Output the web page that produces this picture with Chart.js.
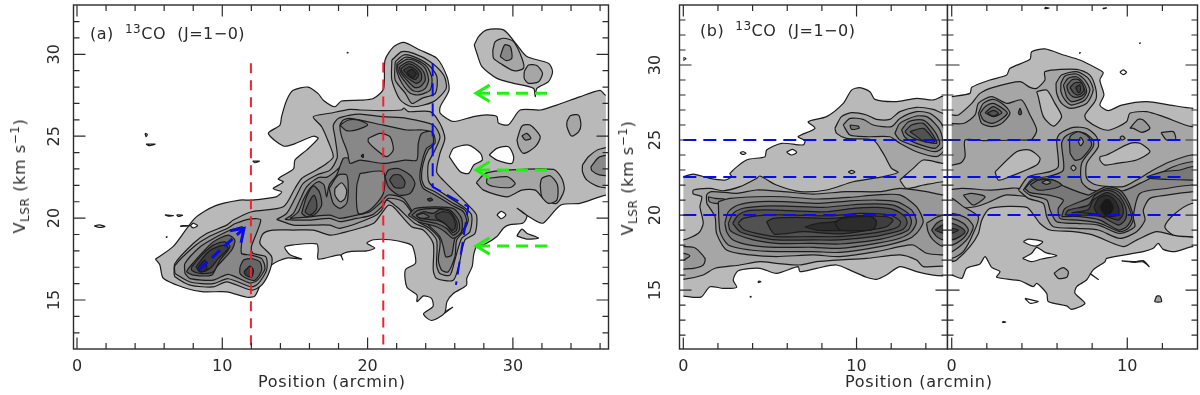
<!DOCTYPE html>
<html>
<head>
<meta charset="utf-8">
<script src="https://cdn.jsdelivr.net/npm/chart.js@4/dist/chart.umd.js"></script>
<style>
  body { margin: 0; background: #fff; }
  #page { position: relative; width: 1200px; height: 395px; overflow: hidden; font-family: "DejaVu Sans", sans-serif; color: #2a2a2a; }
  canvas { position: absolute; top: 0; }
  .txt { position: absolute; white-space: nowrap; font-size: 16px; line-height: 18px; letter-spacing: 0.75px; }
  .lab { letter-spacing: 0.5px; }
  .txt sup { font-size: 12px; line-height: 0; }
  .txt sub { font-size: 12px; line-height: 0; }
  .ylab { transform: translate(-50%, -50%) rotate(-90deg); letter-spacing: 0.6px; }
</style>
</head>
<body>
<div id="page">
  <canvas id="cA" width="640" height="395" style="left:0"></canvas>
  <canvas id="cB" width="560" height="395" style="left:640px"></canvas>
  <canvas id="cC" width="260" height="395" style="left:940px"></canvas>
  <div class="txt lab" style="left:90px;top:25px">(a) &nbsp;<sup>13</sup>CO &nbsp;(J=1&minus;0)</div>
  <div class="txt lab" style="left:700px;top:22px">(b) &nbsp;<sup>13</sup>CO &nbsp;(J=1&minus;0)</div>
  <div class="txt" style="left:258px;top:373px">Position (arcmin)</div>
  <div class="txt" style="left:845px;top:373px">Position (arcmin)</div>
  <div class="txt ylab" style="left:20px;top:176px">V<sub>LSR</sub> (km s<sup>&minus;1</sup>)</div>
  <div class="txt ylab" style="left:628px;top:178px">V<sub>LSR</sub> (km s<sup>&minus;1</sup>)</div>
</div>
<script>
// ticks
const xTicksA = [0,2,4,6,8,10,12,14,16,18,20,22,24,26,28,30,32,34,36]
const xTicksB = [0,2,4,6,8,10,12,14]
const xTicksC = [0,2,4,6,8,10,12]
const xMajor = [0,10,20,30]
const yTicksA = [13,14,15,16,17,18,19,20,21,22,23,24,25,26,27,28,29,30,31,32]
const yTicksB = [12,13,14,15,16,17,18,19,20,21,22,23,24,25,26,27,28,29,30,31,32,33]
const yMajor = [15,20,25,30]

// contour fill levels, lightest to darkest
const grays = ['#b9b9b9','#a6a6a6','#989898','#888888','#787878','#666666','#525252','#3e3e3e','#2c2c2c','#181818']

// panel (a) contours, position / velocity
const aOuter = [[5.4,17.5],[6.63,18.27],[8.12,20],[9.5,20.75],[11.2,21.1],[12,21.1],[13.7,21.3],[14.08,21.6],[13.5,21.8],[14.2,22.2],[13.85,22.4],[14.9,23],[15,23.54],[15.8,24.15],[16.6,24.87],[16.26,25],[14.88,24.5],[14.2,24.4],[13.17,25.17],[13.97,25.68],[14.08,26.2],[14.43,27.2],[14.88,27.8],[15.9,28],[16.6,27.6],[16.95,27.2],[17.75,26.8],[18.2,27.15],[19.5,27.2],[20.4,27.3],[21.1,27.9],[21.2,29.65],[21.8,30.47],[22.5,30.73],[23.6,30.26],[24.77,29.75],[25.46,28.64],[25.6,27.8],[25,26.8],[25,26.4],[25.9,25.9],[27.3,26.2],[28.2,26.3],[28.9,26.2],[29,25.8],[29.7,25.7],[30.5,26.6],[31.9,26.6],[33,26.9],[34.6,27.4],[36,27.8],[36.4,27.5],[38,27.5],[38,21.4],[36.4,21.4],[34.6,20.9],[33.3,20.8],[32.1,19.7],[31.65,19.8],[30.9,20.2],[30.3,20.6],[30.96,20.14],[30.7,19.7],[29.8,19.6],[29.36,19.4],[28.9,18.88],[28,18.37],[27.5,18.27],[27.3,17.76],[27.2,17.05],[26.83,16.33],[26.8,15.9],[25.9,15.4],[25.46,14.9],[25.3,14.2],[24.4,13.75],[23.85,14.15],[24.5,14.6],[24.4,15.1],[23.85,15.25],[23.4,14.9],[23.4,15.3],[22.7,15.8],[22.6,16.84],[23.3,17.25],[23.1,18.27],[22.7,18.47],[21.56,18.68],[20.4,18.68],[19.95,18.47],[20.5,18.17],[19.95,18],[18.8,17.96],[18.2,17.76],[18.3,17.45],[18.1,17.76],[16.6,17.5],[16.6,18.07],[16.5,18.43],[14.9,18.37],[14.3,18.23],[14.66,17.76],[15.46,17.5],[14.43,17.56],[13.4,17.15],[12.8,16.33],[12.25,15.25],[11.7,15.17],[10.3,15.5],[8.7,15.5],[7.55,15.7],[5.94,16.33],[5.7,17.15]]
const aIsland1 = [[27.34,30.57],[27.64,31.08],[28.21,31.49],[29.36,31.49],[30.28,30.57],[30.96,29.86],[32.45,29.45],[32.73,28.94],[32.45,28.33],[31.65,27.92],[31.54,27.41],[31.42,27.92],[30.05,28.23],[28.9,28.53],[27.87,29.25],[27.52,30.06]]
const aIsland2 = [[28.62,30.26],[28.79,30.77],[29.36,30.98],[30.05,30.77],[30.62,29.76],[30.73,29.14],[30.05,29],[29.13,29.45],[28.67,29.76]]
const aIsland3 = [[29.13,29.86],[29.43,30.57],[29.82,30.47],[29.93,29.76],[29.54,29.61]]
const aIsland4 = [[30.78,28.94],[31.08,29.35],[31.65,29.31],[32.04,28.84],[31.77,28.33],[31.08,28.23],[30.78,28.53]]
const aPatch = [[30.27,18.92],[30.62,19.33],[30.96,19.08],[31.77,18.78],[30.96,18.72]]
const aHole1 = [[25.62,23.75],[25.92,24.26],[26.95,24.46],[27.77,23.95],[27.89,23.54],[27.31,23.24],[26.95,22.73],[26.38,22.83]]
const aHole2 = [[28.37,23.85],[28.9,24.26],[29.7,24.36],[30.05,23.75],[29.93,23.34],[28.9,23.54]]
const aHole3 = [[28.9,20.2],[29.2,20.41],[29.52,20.2],[29.2,19.96]]
const aHole4 = [[8,19.7],[8.3,19.55],[8,19.4],[7.82,19.55]]
const aMain2 = [[6.68,16.62],[6.74,17.23],[8,18.45],[8.92,19.06],[10.3,19.57],[10.76,19.88],[12.02,20.39],[14.2,20.69],[15,21.81],[15.46,22.42],[16.26,22.83],[17.18,23.34],[17.64,23.75],[17.3,24.66],[16.84,25.58],[16.26,26.19],[17.4,26.4],[18.79,26.64],[19.48,26.6],[21.08,26.56],[22.34,26.6],[22.5,26.72],[22.8,26.5],[24.3,26.5],[24.98,25.78],[25.32,24.87],[24.98,23.95],[24.75,22.83],[25.2,22.32],[26.93,20.79],[27.5,20.18],[27.39,19.06],[26.7,18.66],[26.31,17.23],[25.9,16.21],[24.75,16.31],[24.52,16.82],[24.52,18.45],[23.83,19.27],[23.03,19.47],[21.77,20.69],[21.43,20.79],[20.97,20.29],[20.39,19.67],[18.1,19.06],[17.4,18.96],[16.26,19.27],[14.89,19.27],[13.5,19.27],[12.82,19.06],[12.59,18.45],[13.4,17.64],[13.28,16.82],[12.71,15.91],[12.02,15.6],[10.3,16.11],[9.38,15.8],[7.78,15.91],[6.74,16.42]]
const aMain3 = [[13.74,19.92],[14.43,20.29],[15.12,21.4],[15.57,22.12],[16.49,22.63],[17.41,22.93],[17.9,23.65],[17.9,24.05],[17.75,24.97],[17.64,25.68],[18,26.09],[18.79,26.29],[19.48,26.35],[21.08,26.19],[22.69,26.09],[24.52,25.68],[24.98,24.97],[24.64,24.16],[24.18,23.34],[24.18,22.32],[24.52,21.91],[26.59,20.69],[27.16,20.18],[27.04,19.17],[26.47,18.76],[26,17.43],[25.67,16.52],[24.98,16.62],[24.75,17.13],[24.75,18.66],[24.06,19.37],[23.26,19.67],[22,20.69],[21.31,21.1],[20.97,20.49],[20.39,20.08],[18.1,19.37],[17.41,19.57],[16.03,19.57],[14.89,19.57]]
const aMain4 = [[14.31,19.92],[14.89,20.29],[15.34,21.1],[15.8,21.91],[16.61,22.48],[17.2,22.5],[17.87,22.93],[18.67,23.65],[18.56,24.15],[18.21,24.97],[18.1,25.68],[18.33,25.99],[18.79,26.09],[21.08,25.68],[22.69,25.38],[23.83,25.38],[24.52,25.17],[24.64,24.56],[24.18,24.16],[23.83,23.34],[23.72,22.42],[23.95,21.91],[24.64,21.61],[25.9,20.9],[26.7,20.49],[26.93,19.88],[26.59,19.17],[26.13,18.66],[26.01,17.64],[25.55,16.72],[25.1,16.82],[24.87,17.43],[24.98,18.66],[24.29,19.37],[23.49,19.78],[22.46,21],[21.43,21.2],[20.97,20.69],[20.28,20.18],[19.25,19.98],[18.1,19.78],[17.41,19.98],[16.03,19.88],[14.89,19.88]]
const aMain5 = [[14.66,19.98],[15.23,20.39],[15.57,21.1],[16.03,21.81],[16.61,22.22],[17,22.02],[17.18,21.3],[17.36,22.02],[17.87,22.63],[18.33,23.65],[18.67,23.65],[18.79,23.34],[19.48,23.54],[21.08,23.34],[22.57,23.54],[23.38,23.54],[23.49,24.56],[23.72,25.17],[24.41,25.28],[24.52,24.56],[24.06,24.26],[23.72,23.34],[23.6,22.42],[23.83,21.81],[24.64,21.41],[25.78,20.79],[26.59,20.39],[26.82,19.78],[26.47,19.17],[26.01,18.76],[25.78,17.74],[25.39,17.64],[25.21,18.25],[24.98,18.86],[24.18,19.57],[23.26,20.18],[22.46,21.2],[21.43,21.41],[20.85,20.9],[20.16,20.39],[19.25,20.18],[18.1,19.98],[17.41,20.18],[16.03,20.08]]
const aRing = [[17.36,21.81],[17.98,22.63],[18.56,22.63],[18.67,21.71],[18.56,20.9],[18.1,20.59],[17.64,20.9]]
const aRingIn = [[17.75,21.81],[18.21,22.16],[18.56,21.71],[18.44,21.2],[18.1,21],[17.75,21.41]]
const aTongue = [[19.48,22.73],[21.08,22.83],[21.08,21.5],[20.16,20.49],[19.36,20.29],[19.25,21.91]]
const aLight = [[20.05,24.87],[20.85,25.17],[21.54,24.97],[21.77,24.16],[21.31,23.75],[20.62,24.16],[20.05,24.66]]
const aTopBand = [[18.1,25.68],[18.67,25.99],[19.3,26],[20,25.7],[19.3,25.4],[18.55,25.34]]
const aLobe6 = [[15.46,20.29],[15.8,21.3],[16.26,21.96],[16.68,21.61],[16.84,20.79],[16.38,20.24],[15.8,20.08]]
const aLobe7 = [[15.69,20.39],[15.99,21],[16.31,21.4],[16.49,21],[16.45,20.49],[15.99,20.18]]
const aEll1 = [[21.2,22.53],[21.43,22.93],[22.11,23.03],[22.92,22.63],[23.26,22.12],[22.92,21.5],[22.11,21.41],[21.43,21.91]]
const aEll2 = [[21.5,22.32],[21.77,22.63],[22.23,22.63],[22.57,22.22],[22.46,21.87],[21.88,21.87]]
const aLow1 = [[22.8,20.18],[23.26,20.59],[24.64,20.69],[25.9,20.59],[26.47,19.98],[26.47,19.17],[25.9,18.76],[25.32,19.17],[24.75,19.47],[23.49,19.78]]
const aLow2 = [[23.03,20.18],[23.49,20.49],[24.64,20.59],[25.67,20.49],[26.24,19.88],[26.31,19.27],[25.9,18.96],[25.44,19.37],[24.75,19.67],[23.6,19.88]]
const aLow3 = [[23.33,20.18],[23.83,20.39],[24.52,20.29],[24.98,20.53],[25.67,20.39],[26.13,19.78],[26.13,19.27],[25.85,19.12],[25.44,19.57],[24.87,19.84],[23.6,19.98]]
const aLow4 = [[24.64,20.18],[25.1,20.39],[25.67,20.29],[26.01,19.78],[26.01,19.37],[25.78,19.27],[25.32,19.67],[24.75,19.98]]
const aLowIn = [[23.42,20.18],[23.83,20.29],[24.25,20.08],[23.83,19.98],[23.42,20.08]]
const aSpot1 = [[24.1,21.16],[24.34,21.22],[24.48,21.1],[24.25,21.04]]
const aSpot2 = [[19.55,23.8],[19.7,23.9],[19.7,23.7]]
const aPeak2 = [[21.67,29.65],[22.36,30.16],[23.17,30.06],[24.31,29.55],[25.23,28.74],[25.41,27.92],[24.54,27.11],[23.05,26.8],[22.25,27.21],[21.67,28.43]]
const aPeak3 = [[21.9,29.55],[22.48,29.96],[23.17,29.86],[24.2,29.35],[24.77,28.64],[24.66,27.62],[23.74,27.31],[23.05,27],[22.6,27.62],[21.9,28.43]]
const aPeak4 = [[22.02,29.45],[22.59,29.82],[23.28,29.69],[24.08,29.25],[24.43,28.53],[24.31,27.82],[23.51,27.52],[22.94,27.62],[22.36,28.23],[22.02,28.94]]
const aPeak5 = [[22.06,29.35],[22.71,29.69],[23.39,29.55],[23.97,29.14],[24.2,28.43],[23.97,27.92],[23.51,27.72],[23.05,27.82],[22.48,28.43],[22.13,28.94]]
const aPeak6 = [[22.2,29.25],[22.82,29.55],[23.39,29.35],[23.85,28.94],[23.97,28.43],[23.62,28.02],[23.21,27.98],[22.59,28.53],[22.25,28.94]]
const aPeak7 = [[22.29,29.14],[22.82,29.41],[23.35,29.21],[23.69,28.84],[23.69,28.43],[23.35,28.23],[22.71,28.59],[22.36,28.94]]
const aPeak8 = [[22.47,29.04],[22.89,29.25],[23.28,29.08],[23.51,28.74],[23.28,28.47],[22.82,28.68]]
const aPeak9 = [[22.71,28.94],[23.05,29.08],[23.35,28.8],[23.12,28.59],[22.82,28.74]]
const aBlob1 = [[33.72,25.89],[33.95,26.25],[34.52,26.29],[34.68,25.68],[34.52,25.27],[34.04,25.01],[33.72,25.58]]
const aBlob2 = [[30.28,24.77],[30.62,25.62],[31.19,25.68],[31.88,24.97],[31.54,24.36],[30.73,23.95],[30.39,24.36]]
const aBlob2b = [[30.62,25.03],[30.96,25.17],[31.24,24.87],[30.85,24.77]]
const aEdge2 = [[34.79,23.24],[35.2,23.75],[36,24.22],[38,24.3],[38,21.9],[36,21.9],[35.1,22.32],[34.79,22.83]]
const aEdge3 = [[35.37,23.14],[36,23.75],[38,23.85],[38,22.6],[36,22.63],[35.43,22.9]]
const aBlob3 = [[27.48,22.16],[28.1,22.73],[29.59,22.93],[32.8,22.97],[33.37,22.42],[33.53,21.71],[33,20.9],[32.1,21.2],[31.54,21.71],[30.62,21.71],[29.59,21.3],[27.98,21.71]]
const aBlob3a = [[28.21,22.42],[29.59,22.53],[30.16,22.12],[29.82,21.87],[28.67,21.93],[28.21,22.12]]
const aBlob3b = [[31.88,22.02],[31.99,22.42],[32.57,22.59],[33.07,22.02],[33.03,21.1],[32.45,20.9],[31.99,21.3]]
const aLeft2 = [[6.74,16.62],[6.74,17.1],[8.1,18.3],[9.04,18.85],[10.4,19.4],[10.9,19.67],[12,19.95],[12.65,19.88],[12,18.25],[12.1,17.85],[13,17.64],[13.05,16.82],[12.47,16],[12,15.8],[10.4,16.3],[9.38,16],[7.78,16.1]]
const aLeft3 = [[7.43,16.62],[7.43,17.23],[8.46,18.24],[9.38,18.75],[10.53,19.26],[11.33,19.47],[11.4,19.45],[11.33,18.45],[11.33,17.84],[12,17.74],[12.71,17.53],[12.94,16.92],[12.41,16.2],[11.9,16.04],[10.41,16.57],[9.38,16.21],[7.78,16.31]]
const aLeft5 = [[7.66,16.92],[8.46,17.74],[9.38,18.55],[10.41,18.96],[10.87,18.65],[10.64,18.04],[9.61,17.02],[9.27,16.52],[8,16.52],[7.55,16.72]]
const aLeft6 = [[7.89,17.02],[8.58,17.74],[9.38,18.35],[10.18,18.55],[10.53,18.25],[9.84,17.43],[9.38,16.72],[8.46,16.62],[7.89,16.82]]
const aLeft7 = [[8.19,17.02],[8.92,17.84],[9.38,18.14],[10.18,18.35],[10.41,18.14],[9.72,17.53],[9.15,16.92],[8.46,16.72]]
const aLeft8 = [[8.35,17.02],[8.81,17.43],[8.92,16.82],[8.46,16.72]]
const aRight5 = [[11.22,17.02],[11.45,17.43],[12.02,17.53],[12.59,17.33],[12.71,16.82],[12.25,16.21],[11.68,16.31],[11.22,16.62]]
const aRight6 = [[11.49,16.72],[11.9,17.07],[12.14,16.82],[12.02,16.41],[11.63,16.51]]
const aTiny1 = [[4.68,25.17],[4.84,25.11],[4.75,24.97]]
const aTiny2 = [[4.75,24.52],[5.37,24.52],[5,24.42]]
const aTiny3 = [[1.19,19.53],[1.53,19.59],[1.93,19.49],[1.53,19.43]]
const aTiny4 = [[6.05,20.2],[6.63,20.16],[6.3,20.12]]
const aTiny5 = [[6.86,20.2],[7.27,20.18],[6.97,20.1]]
const aTiny6 = [[7.13,19.53],[7.82,19.55],[7.13,19.5]]
const aTiny7 = [[12.09,23.48],[12.55,23.48],[12.25,23.38]]
const aTiny8 = [[6.15,18.88],[6.2,18.86],[6.15,18.82]]
const aTiny9 = [[18.6,30.12],[18.66,30.1],[18.6,30.08]]
const aTiny10 = [[25.3,14.2],[25.85,14.56],[25.4,14.3]]
const aStrip = [[36.4,11],[37,11],[37,34],[36.4,34]]

// panel (b) left part
const bOuter = [[0,22.56],[0.58,22.73],[1.54,22.44],[2.4,22.33],[2.79,22.56],[2.69,22.78],[3.65,23.67],[4.71,23.89],[4.81,24.33],[5.67,24.78],[6.92,24.67],[7.02,24.96],[6.63,25.22],[7.6,25.78],[7.21,26.22],[8.27,26.56],[9.23,27.44],[9.71,28.33],[10.19,28.49],[10.77,28.22],[11.06,27.71],[12.31,27.56],[13.46,27.78],[14.42,27.67],[15,27.93],[16,28],[16,15.9],[15,15.94],[14.42,16],[13.46,16.23],[12.5,16.56],[11.73,16],[11.15,15.71],[10.58,15.85],[9.81,16.23],[8.85,16.67],[7.69,16.45],[6.73,16.23],[6.63,16.56],[5.38,16.11],[4.42,16.45],[3.17,16.29],[2.88,15.67],[3.08,15.18],[2.31,15.11],[1.54,15.22],[1.06,14.56],[0.58,14.51],[0,14.6],[-1,14.6],[-1,22.56]]
const bHole = [[5.96,24.18],[6.29,24.38],[6.54,24.18],[6.25,24]]
const bDiamond = [[9.52,22.87],[9.71,22.98],[9.9,22.87],[9.71,22.76]]
const bTiny1 = [[3.27,24.16],[3.46,24.22],[3.62,24.11],[3.42,24.04]]
const bTiny2 = [[0,30.5],[0.15,30.44],[0,30.3]]
const bTiny3 = [[4.33,15.6],[4.48,15.56],[4.33,15.5]]
const bTiny4 = [[3.86,14.58],[3.92,14.56],[3.86,14.52]]
const bLevel2 = [[8.75,25.78],[9.13,26.56],[9.71,26.82],[10.58,26.67],[11.15,26.38],[11.92,26.38],[12.5,26.89],[13.46,27.18],[14.42,27.04],[15,26.78],[16,26.78],[16,16.6],[15,16.6],[13.85,16.56],[13.46,17],[12.5,17.34],[10.58,17.11],[8.85,17],[7.69,16.89],[6.73,16.67],[5.38,16.78],[4.42,16.89],[3.27,16.67],[1.83,16.45],[1.15,16],[0,15.71],[-1,15.71],[-1,18.34],[0,18.34],[0.87,18.78],[1.15,19.45],[0.96,20.56],[1.06,21.22],[0.58,21.4],[0.58,21.67],[1.54,21.78],[2.31,21.62],[3.27,21.89],[4.23,22.44],[4.42,22.6],[5.38,22],[6.73,21.56],[8.27,21.67],[9.81,22.22],[11.54,22.56],[12.4,22.84],[12.02,23.11],[11.54,24.11],[10.96,25],[9.42,25.11],[8.85,25.44]]
const bTongue = [[12.5,22.33],[12.88,21.78],[13.85,22],[15,22.22],[16,22.22],[16,23.44],[15,23.44],[13.85,23.67],[13.27,23.11]]
const bTop3 = [[9.23,26],[9.62,26.44],[10.38,26.38],[10.96,26],[12.02,25.89],[12.5,26.44],[13.46,26.89],[14.23,26.78],[14.9,26.11],[15.2,25],[15,24.22],[14.62,23.89],[13.46,24.22],[12.5,24.78],[11.92,25.22],[10.58,25.22],[9.62,25.33]]
const bTop4 = [[12.21,25.44],[12.5,26.11],[13.46,26.6],[14.13,26.51],[14.81,25.67],[15,24.56],[14.52,24.22],[13.46,24.56],[12.5,25]]
const bTop5 = [[12.6,25.67],[13,26.22],[13.85,26.33],[14.52,25.56],[14.81,24.78],[14.52,24.44],[13.46,24.78],[12.79,25.18]]
const bTop6 = [[12.79,25.56],[13.17,26],[13.85,26.11],[14.42,25.33],[14.62,24.78],[13.46,25.04],[12.98,25.33]]
const bTop7 = [[13.08,25.56],[13.85,25.78],[14.33,25.22],[14.52,24.89],[13.94,24.89]]
const bTopSmall = [[9.62,26],[10.1,25.93],[10.15,25.78],[9.71,25.71]]
const bBand3 = [[1.35,20.78],[1.35,21.34],[1.63,21.56],[3.08,21.45],[4.23,21.67],[5.77,21.56],[7.5,21.4],[9.42,21.56],[11.35,21.56],[12.5,21.78],[14.04,21.56],[15,21.34],[16,21.34],[16,17.34],[15,17.34],[14.04,17.45],[13.27,18],[12.5,17.89],[11.15,17.56],[9.04,17.23],[7.5,17.34],[5.38,17.23],[3.85,17.34],[2.5,17.67],[1.92,18.78],[1.83,19.89]]
const bBand4 = [[2.02,20.89],[2.69,21.11],[4.23,21.22],[5.77,21.22],[7.69,21.07],[9.62,21.18],[11.15,21.34],[12.5,21.34],[13.46,20.56],[13.85,19.56],[13.46,18.78],[12.88,18.34],[11.35,17.89],[9.04,17.51],[7.5,17.56],[5.38,17.56],[3.85,17.67],[2.6,18],[2.12,18.89]]
const bBandTop = [[1.44,21.22],[1.83,21.11],[2.4,21.05],[2.4,20.78],[1.83,20.78],[1.5,20.89]]
const bBand5 = [[2.4,19.45],[2.6,20.22],[3.17,20.67],[4.42,20.89],[5.77,20.89],[7.88,20.78],[9.62,20.94],[11.15,21],[12.31,20.89],[13.17,20.34],[13.46,19.56],[13.17,18.89],[12.5,18.45],[11.15,18.11],[9.04,17.78],[7.5,17.85],[5.38,17.85],[3.85,18],[2.88,18.34],[2.5,18.89]]
const bBand6 = [[2.6,19.45],[2.88,20.11],[3.46,20.45],[4.62,20.6],[5.96,20.6],[8.08,20.51],[9.62,20.67],[11.15,20.74],[12.21,20.63],[12.98,20.11],[13.17,19.56],[12.98,19],[12.31,18.67],[11.15,18.34],[9.04,18.07],[7.5,18.11],[5.38,18.11],[4.04,18.34],[3.17,18.67],[2.69,19]]
const bBand7 = [[2.85,19.45],[3.17,20],[3.75,20.29],[4.81,20.34],[6.15,20.29],[8.27,20.22],[9.81,20.45],[11.15,20.51],[12.11,20.38],[12.79,19.89],[12.92,19.45],[12.69,19.05],[12.11,18.83],[10.96,18.56],[9.04,18.34],[7.5,18.34],[5.38,18.34],[4.23,18.56],[3.27,18.89]]
const bBand8 = [[3.17,19.45],[3.46,19.78],[4.81,20],[6.35,20],[8.46,19.94],[10.19,20.11],[11.92,20],[12.54,19.56],[12.4,19.22],[11.73,18.96],[10.58,18.74],[9.04,18.56],[7.5,18.56],[5.38,18.56],[4.23,18.78],[3.46,19.05]]
const bBand9 = [[4.81,19.56],[5.19,19.78],[6.54,19.85],[8.46,19.78],[10.19,19.94],[11.73,19.89],[12.11,19.67],[11.73,19.22],[10.58,18.96],[9.04,18.74],[6.92,18.89],[5.29,18.71],[5,19.11]]
const bBand10 = [[7.02,19.22],[7.79,19.45],[8.75,19.56],[9.42,19.89],[10.77,19.94],[11.15,19.56],[10.96,19.05],[10,18.96],[9.04,18.96],[7.69,19]]
const bBand11 = [[8.75,19.45],[9.13,19.78],[10.77,19.89],[11.15,19.56],[10.96,19.05],[10,18.96],[9.04,19]]
const bLeft3 = [[-1,17.85],[0.58,17.85],[1.25,17.11],[1.15,16.67],[0.58,16.45],[-1,16.45]]
const bLeft4 = [[-1,17.45],[0,17.45],[0.38,17.29],[0,17],[-1,17]]
const bRight1 = [[14.04,19.45],[14.62,19.85],[15,20],[16,20],[16,17.9],[15,17.9],[14.42,18.34],[14.13,18.89]]
const bRight2 = [[14.33,19],[14.62,19.45],[15,19.67],[16,19.67],[16,18.34],[15,18.34],[14.62,18.56]]
const bRight3 = [[14.52,19],[15,19.34],[16,19.34],[16,18.78],[15,18.78]]
const bStripL = [[-1,11],[0,11],[0,34],[-1,34]]
const bStripR = [[15,11],[16,11],[16,34],[15,34]]

// panel (b) right part
const cOuter = [[0,27.89],[1.04,28.11],[1.14,28.51],[2.18,29],[3.13,29.33],[3.32,29.78],[4.46,30.38],[4.55,30.89],[5.31,31.07],[6.36,30.67],[7.3,30.33],[8.25,29.78],[8.63,29.49],[8.44,29],[8.67,28],[8.44,27.33],[8.92,26.96],[9.68,27.33],[11.1,27.56],[12.43,27.33],[13.76,27.11],[15,27.11],[15,17.89],[13.7,17.89],[12.71,17.56],[12.05,17.71],[11.76,18.11],[11.48,17.78],[10.91,17.56],[8.82,17.11],[8.73,16.89],[8.06,16.34],[7.68,15.67],[7.12,15.23],[7.02,14.78],[7.59,14.11],[6.83,13.71],[6.55,13.94],[5.5,14.23],[5.41,14.78],[4.84,15.45],[4.65,15.23],[3.89,15.62],[2.56,15.85],[2.75,16.23],[2.28,16.51],[1.9,17.23],[1.61,16.74],[0.85,16.45],[0.57,15.78],[0,16],[-1,16],[-1,27.89]]
const cHole1 = [[4.08,18.22],[4.36,18.4],[5.18,18.22],[4.84,17.94],[4.46,18]]
const cHole2 = [[4.04,17.11],[4.55,17.45],[4.84,17.85],[5.31,17.51],[5.98,17.29],[5.12,17.07],[4.55,16.89]]
const cSmall = [[5.83,16.11],[6.07,16.34],[6.36,16.49],[6.64,16.23],[6.55,15.85],[6.07,15.78]]
const cLevel2 = [[-1,26.67],[0,26.67],[0.38,26.67],[1.14,27.44],[1.61,28.11],[2.37,28.51],[3.89,28.89],[4.46,28.51],[4.84,28.44],[5.31,29],[5.31,29.56],[7.12,29.71],[7.87,29.33],[8.2,28.44],[8.2,27.67],[7.59,26.67],[7.68,26.33],[8.44,25.78],[9.01,25.67],[9.96,26.22],[10.15,26.78],[11.1,26.89],[12.05,26.56],[13.66,25.89],[15,25.89],[15,18.55],[13.66,18.55],[12.62,18.66],[11.67,18.89],[10.53,18.33],[9.77,17.89],[8.06,18.66],[6.93,18.89],[5.6,19],[5.03,19.44],[4.74,19.89],[4.27,20.51],[2.18,20.44],[1.71,19.66],[1.52,18.77],[1.04,17.89],[0.28,17],[0,16.89],[-1,16.89]]
const cIsle1 = [[4.84,28.22],[5.41,28.33],[5.88,27.44],[6.26,26.56],[5.79,25.93],[5.22,26.56],[4.93,27.89]]
const cIsle2 = [[2.47,22.89],[3.7,24.22],[4.46,24.33],[5.03,23.78],[4.84,23.33],[3.32,22.56],[2.66,22.33]]
const cIsle3 = [[8.44,23.89],[8.82,24],[10.15,24.78],[10.72,24.78],[11.29,24.22],[10.53,23.67],[9.39,23.44],[8.73,23.33],[8.44,23.67]]
const cBay = [[15,20.77],[13.66,20.77],[12.62,20],[12.14,19.22],[12.62,18.66],[13.66,18.55],[15,18.55]]
const cTop3 = [[-1,26.2],[0.66,26.1],[1.33,26.67],[1.52,27.44],[2.28,27.89],[3.13,27.44],[3.98,27.67],[4.46,26.67],[4.84,25.67],[4.55,25.04],[3.89,25],[1.8,24.96],[0.76,25],[0.76,23.89],[0.47,23.44],[-1,23.33]]
const cTop4 = [[1.52,26.78],[1.8,27.44],[2.37,27.71],[3.04,27.27],[3.32,26.78],[2.85,26.11],[2.28,25.89],[1.71,26.11]]
const cTop5 = [[1.61,26.78],[1.9,27.22],[2.37,27.44],[2.98,27.04],[3.17,26.78],[2.75,26.33],[2.28,26.11],[1.8,26.33]]
const cTop6 = [[1.9,26.82],[2.37,27.22],[2.85,26.82],[2.37,26.56]]
const cTop7 = [[2.03,26.78],[2.37,26.98],[2.66,26.78],[2.37,26.6]]
const cTopB = [[3.79,26.78],[3.89,27.11],[3.98,26.78],[3.89,26.67]]
const cSm1 = [[10.15,25.78],[10.62,26.38],[10.91,26.33],[11.29,25.78],[10.82,25.51],[10.34,25.78]]
const cSm2 = [[11.92,25.49],[12.62,25.56],[12.75,25.04],[12.24,25]]
const cSm3 = [[9.58,25.16],[9.73,25.27],[9.87,25.11],[9.68,25]]
const cPeak3 = [[5.94,28.78],[6.26,29.33],[7.12,29.56],[7.78,29.11],[8.06,28.33],[7.68,27.44],[6.74,27.11],[6.26,27.44],[5.98,28.11]]
const cPeak4 = [[6.22,28.78],[6.45,29.27],[7.12,29.4],[7.59,29],[7.87,28.33],[7.59,27.67],[6.83,27.33],[6.45,27.67],[6.22,28.22]]
const cPeak5 = [[6.36,28.67],[6.64,29.11],[7.12,29.22],[7.5,28.82],[7.68,28.22],[7.46,27.78],[6.83,27.56],[6.55,27.89]]
const cPeak6 = [[6.55,28.6],[6.83,29],[7.21,29.04],[7.46,28.67],[7.59,28.16],[7.3,27.89],[6.89,27.89],[6.64,28.22]]
const cPeak7 = [[6.74,28.51],[7.02,28.82],[7.4,28.78],[7.53,28.29],[7.21,28],[6.93,28.16]]
const cPeak8 = [[7.06,28.51],[7.3,28.67],[7.34,28.29],[7.21,28.16]]
const cMid3 = [[3.8,21.66],[4.36,22.55],[5.6,22.89],[6.07,23.22],[5.98,25],[6.17,25.44],[6.93,25.84],[7.69,25.77],[8.25,25.22],[8.35,24.55],[7.69,23.44],[7.69,22.44],[8.25,22],[9.77,21.89],[10.53,22.33],[11.48,23],[12.43,23.55],[13.66,24],[15,24],[15,21.55],[13.66,21.55],[12.24,21.33],[11.29,21.11],[10.91,20.33],[11.01,19.66],[10.53,18.89],[9.58,18.44],[8.35,19],[7.12,19.11],[5.79,19.22],[5.41,19.89],[5.22,20.77],[4.36,21.11]]
const cMid4 = [[4.08,21.66],[4.55,22.37],[5.6,22.6],[6.36,23],[6.26,24.77],[6.45,25.22],[7.02,25.55],[7.59,25.44],[8.06,25],[8.06,24.55],[7.4,23.44],[7.4,22.22],[7.97,21.66],[9.77,21.62],[10.72,22.11],[11.67,22.66],[12.62,23.22],[13.66,23.55],[15,23.55],[15,22],[13.66,22],[12.24,21.77],[10.72,21.44],[10.34,19.89],[10.43,19.22],[9.58,18.77],[8.35,19.33],[7.12,19.44],[5.98,19.55],[5.6,20.33],[5.41,21],[4.46,21.33]]
const cMid5 = [[4.17,21.77],[4.65,22.33],[5.69,22.37],[6.45,21.89],[7.78,21.33],[8.06,21.49],[8.82,21.89],[9.58,21.66],[9.96,21.11],[10.25,20.33],[10.34,19.66],[10.06,19.11],[9.58,18.89],[8.44,19.44],[7.21,19.66],[6.17,19.77],[6.07,20.44],[6.36,21],[5.5,21.33],[4.46,21.49]]
const cEll6 = [[4.46,22],[4.93,22.33],[5.79,22.33],[6.26,22],[5.79,21.77],[4.93,21.66]]
const cEll7 = [[5.12,22.17],[5.41,22.33],[5.64,22.17],[5.41,22.04]]
const cP1 = [[6.26,19.89],[6.45,20.44],[7.78,21.11],[8.06,21.33],[8.82,21.77],[9.49,21.55],[9.87,21],[10.15,20.33],[10.25,19.77],[9.96,19.22],[9.49,19],[8.44,19.66],[7.31,19.89]]
const cP2 = [[6.45,20],[6.64,20.33],[7.78,20.66],[8.16,21.33],[8.82,21.66],[9.39,21.44],[9.77,20.89],[9.96,20.22],[9.87,19.66],[9.49,19.33],[8.54,19.89],[7.4,20]]
const cP3 = [[6.83,20.15],[7.78,20.37],[8.06,21],[8.82,21.49],[9.3,21.26],[9.68,20.77],[9.77,20.11],[9.49,19.66],[8.63,19.99],[7.5,20.15]]
const cP4 = [[8.1,20.51],[8.35,21.11],[8.82,21.33],[9.2,21.11],[9.49,20.55],[9.49,20],[8.82,19.89],[8.35,20]]
const cP5 = [[8.44,20.51],[8.73,21],[8.98,21],[9.2,20.51],[8.98,20],[8.73,20]]
const cP6 = [[8.67,20.51],[8.82,20.82],[8.98,20.51],[8.82,20.11]]
const cPillar = [[6.74,24.11],[6.74,25.22],[7.21,25.55],[7.78,25.22],[7.97,24.66],[7.4,23.77],[7.02,23.66]]
const cPillarIn = [[7.21,24.89],[7.34,25.18],[7.5,24.89],[7.34,24.62]]
const cPillarLow = [[6.77,23.15],[6.93,23.33],[7.08,23.11],[6.93,22.95]]
const cRightBand = [[11.1,22.55],[12.05,22.89],[13,23],[13.66,23.22],[15,23.22],[15,22.33],[13.66,22.33],[12.24,22.37],[11.29,22.44]]
const cStripe = [[-1,21.55],[0.57,21.78],[2.18,21.66],[3.32,21.78],[3.79,21.78],[4.46,21.26],[3.04,21.33],[2.18,20.89],[1.33,20.55],[0.28,20.44],[-1,20.44]]
const cStripeIn = [[0.66,21.33],[1.14,21.44],[1.9,21.22],[1.23,20.67]]
const cLobe3 = [[-1,21.11],[0,21.11],[0.66,20.56],[1.52,19.89],[1.23,18.78],[0.66,17.56],[0,17.11],[-1,17.11]]
const cLobe4 = [[-1,20.11],[0,20.11],[0.85,19.78],[1.23,19.22],[0.85,18.34],[0,17.56],[-1,17.56]]
const cLobe5 = [[-1,19.78],[0,19.78],[0.66,19.45],[0.95,19],[0.66,18.45],[0,18],[-1,18]]
const cLobe6 = [[-1,19.45],[0,19.45],[0.47,19.22],[0.76,18.89],[0.47,18.56],[0,18.34],[-1,18.34]]
const cLobe7 = [[-1,19.11],[0,19.11],[0.38,19],[0,18.78],[-1,18.78]]
const cTiny1 = [[7.87,16.11],[8.35,15.71],[7.95,16.05]]
const cTiny2 = [[9.68,16.94],[10.44,16.89],[10.91,16.96],[11.25,16.56],[10.91,16.88],[10.44,16.85]]
const cTiny3 = [[4.17,14.44],[4.55,14.34],[4.93,14.23],[4.46,14.12]]
const cTiny4 = [[2.9,12.9],[3.09,12.87],[2.9,12.84]]
const cTiny5 = [[11.67,14.6],[11.86,14.6],[11.95,14.23],[11.57,14.23]]
const cTiny6 = [[5.31,33.84],[5.56,33.8],[5.31,33.76]]
const cTiny7 = [[8.63,33.8],[8.82,33.8],[8.63,33.75]]
const cTiny8 = [[10.7,31.48],[10.75,31.46],[10.7,31.44]]
const cTiny9 = [[7.28,30.84],[7.33,30.82],[7.28,30.78]]
const cTiny10 = [[9.58,29.51],[9.77,29.67],[9.96,29.51],[9.77,29.36]]
const cStripL = [[-1,11],[0,11],[0,34],[-1,34]]
const cStripR = [[13.76,11],[15,11],[15,34],[13.76,34]]

// overlay lines
const redLine1 = [[11.97,29.45],[11.97,12.01]]
const redLine2 = [[21.08,29.5],[21.08,12.01]]
const blueBend = [[24.48,29.45],[24.48,21.9],[26.93,20.7],[26.57,18.66],[26.08,15.92]]
const blueArrow = [[8.42,16.87],[11.5,19.38]]
const blueHead = [[10.53,19.23],[11.5,19.38],[11.29,18.5]]
const greenLine1 = [[27.6,27.62],[32.7,27.62]]
const greenLine2 = [[27.6,22.94],[32.7,22.94]]
const greenLine3 = [[27.6,18.3],[32.7,18.3]]
const greenHead1 = [[28.4,28.12],[27.46,27.62],[28.4,27.12]]
const greenHead2 = [[28.4,23.44],[27.46,22.94],[28.4,22.44]]
const greenHead3 = [[28.4,18.8],[27.46,18.3],[28.4,17.8]]
const bDash1 = [[0,25],[15.25,25]]
const bDash2 = [[0,22.53],[15.25,22.53]]
const bDash3 = [[0,20],[15.25,20]]
const cDash1 = [[-0.24,25],[13.27,25]]
const cDash2 = [[-0.24,22.53],[13.27,22.53]]
const cDash3 = [[-0.24,20],[13.27,20]]

// [points, gray index], -1 is white, drawn in this order
const aShapes = [[aOuter,0],[aHole1,-1],[aHole2,-1],[aHole3,-1],[aHole4,-1],[aPatch,0],[aIsland1,0],[aIsland2,1],[aIsland3,3],[aIsland4,1],
  [aTiny1,-1],[aTiny2,-1],[aTiny3,-1],[aTiny4,-1],[aTiny5,-1],[aTiny6,-1],[aTiny7,-1],[aTiny8,-1],[aTiny9,-1],[aTiny10,-1],
  [aBlob1,1],[aBlob2,1],[aBlob2b,3],[aEdge2,1],[aEdge3,3],[aBlob3,1],[aBlob3a,2],[aBlob3b,2],
  [aMain2,1],[aMain3,2],[aMain4,3],[aTopBand,4],[aLight,2],[aMain5,4],[aRing,3],[aRingIn,1],[aTongue,3],[aLobe6,5],[aLobe7,6],[aEll1,5],[aEll2,6],
  [aLow1,5],[aLow2,5],[aLow3,6],[aLow4,7],[aLowIn,5],[aSpot1,7],[aSpot2,7],
  [aLeft2,2],[aLeft3,3],[aLeft5,5],[aLeft6,6],[aLeft7,7],[aLeft8,8],[aRight5,5],[aRight6,7],
  [aPeak2,1],[aPeak3,2],[aPeak4,3],[aPeak5,4],[aPeak6,5],[aPeak7,6],[aPeak8,7],[aPeak9,8]]
const bShapes = [[bOuter,0],[bHole,-1],[bDiamond,0],[bTiny1,-1],[bTiny2,-1],[bTiny3,-1],[bTiny4,-1],
  [bLevel2,1],[bTongue,0],[bLeft3,2],[bLeft4,3],[bTop3,2],[bTopSmall,4],[bTop4,3],[bTop5,4],[bTop6,5],[bTop7,6],
  [bBand3,2],[bBandTop,3],[bBand4,3],[bBand5,4],[bBand6,5],[bBand7,6],[bBand8,6],[bBand9,7],[bBand10,8],[bBand11,8],
  [bRight1,3],[bRight2,5],[bRight3,7]]
const cShapes = [[cOuter,0],[cHole1,-1],[cHole2,-1],[cSmall,1],[cTiny1,-1],[cTiny2,-1],[cTiny3,-1],[cTiny4,-1],[cTiny5,1],[cTiny6,-1],[cTiny7,-1],[cTiny8,-1],[cTiny9,-1],[cTiny10,-1],
  [cLevel2,1],[cIsle1,0],[cIsle2,0],[cIsle3,0],[cBay,0],[cStripe,2],[cStripeIn,3],[cLobe3,2],[cLobe4,3],[cLobe5,4],[cLobe6,6],[cLobe7,7],
  [cTop3,2],[cTop4,3],[cTop5,4],[cTop6,5],[cTop7,6],[cTopB,6],[cSm1,2],[cSm2,2],[cSm3,2],
  [cPeak3,2],[cPeak4,3],[cPeak5,4],[cPeak6,5],[cPeak7,6],[cPeak8,7],
  [cMid3,2],[cMid4,3],[cRightBand,4],[cPillar,4],[cPillarIn,2],[cPillarLow,1],[cMid5,4],[cEll6,5],[cEll7,3],
  [cP1,5],[cP2,6],[cP3,7],[cP4,8],[cP5,9],[cP6,9]]

const RED = {color:'#f0222e', width:2, dash:[10,7]}
const BLUE = {color:'#0a0aee', width:2, dash:[13,7]}
const BLUE3 = {color:'#0a0aee', width:3, dash:[11,6]}
const BLUE_S = {color:'#0a0aee', width:3, dash:[]}
const GREEN = {color:'#22ee11', width:3, dash:[12,7]}
const GREEN_S = {color:'#22ee11', width:3, dash:[]}

const aLines = [[redLine1,RED],[redLine2,RED],[blueBend,BLUE],[blueArrow,BLUE3],[blueHead,BLUE_S],[greenLine1,GREEN],[greenLine2,GREEN],[greenLine3,GREEN],[greenHead1,GREEN_S],[greenHead2,GREEN_S],[greenHead3,GREEN_S]]
const bLines = [[bDash1,BLUE],[bDash2,BLUE],[bDash3,BLUE]]
const cLines = [[cDash1,BLUE],[cDash2,BLUE],[cDash3,BLUE]]

function pts(list) { return list.map(p => ({x:p[0], y:p[1]})) }

function buildDatasets(shapes, strips, lines) {
  const out = []
  shapes.forEach(s => {
    const closed = s[0].concat([s[0][0]])
    out.push({data:pts(closed), showLine:true, pointRadius:0, fill:'shape', tension:0.25,
      backgroundColor:s[1] < 0 ? '#ffffff' : grays[s[1]], borderColor:'#1c1c1c', borderWidth:1.2, clip:0})
  })
  strips.forEach(s => {
    out.push({data:pts(s), showLine:true, pointRadius:0, fill:'shape', backgroundColor:'#ffffff', borderWidth:0, borderColor:'#ffffff', clip:0})
  })
  lines.forEach(l => {
    out.push({data:pts(l[0]), showLine:true, pointRadius:0, fill:false, borderColor:l[1].color, borderWidth:l[1].width, borderDash:l[1].dash, clip:0})
  })
  // first dataset has to end up at the bottom
  out.forEach((d,i) => { d.order = out.length - i })
  return out
}

// frame, inward ticks on all four sides, and the sideways y labels
function framePlugin(yLabelX, yLabels) {
  return {
    id:'frame',
    afterDraw(chart) {
      const {ctx, chartArea:a, scales} = chart
      ctx.save()
      ctx.strokeStyle = '#2b2b2b'
      ctx.lineWidth = 1.2
      ctx.beginPath()
      scales.x.ticks.forEach(t => {
        const len = xMajor.includes(t.value) ? 11.5 : 6
        const px = scales.x.getPixelForValue(t.value)
        ctx.moveTo(px, a.bottom); ctx.lineTo(px, a.bottom - len)
        ctx.moveTo(px, a.top); ctx.lineTo(px, a.top + len)
      })
      scales.y.ticks.forEach(t => {
        const len = yMajor.includes(t.value) ? 12 : 6
        const py = scales.y.getPixelForValue(t.value)
        ctx.moveTo(a.left, py); ctx.lineTo(a.left + len, py)
        ctx.moveTo(a.right, py); ctx.lineTo(a.right - len, py)
      })
      ctx.stroke()
      ctx.lineWidth = 1.4
      ctx.strokeRect(a.left, a.top, a.right - a.left, a.bottom - a.top)
      if (yLabels) {
        ctx.fillStyle = '#2a2a2a'
        ctx.font = '16px "DejaVu Sans"'
        ctx.textAlign = 'center'
        ctx.textBaseline = 'middle'
        yLabels.forEach(v => {
          ctx.save()
          ctx.translate(yLabelX, scales.y.getPixelForValue(v))
          ctx.rotate(-Math.PI/2)
          ctx.fillText(String(v), 0, 0)
          ctx.restore()
        })
      }
      ctx.restore()
    }
  }
}

function panel(id, cfg) {
  new Chart(document.getElementById(id), {
    type:'scatter',
    data:{datasets:buildDatasets(cfg.shapes, cfg.strips, cfg.lines)},
    plugins:[framePlugin(cfg.yLabelX, cfg.yLabels)],
    options:{
      responsive:false,
      animation:false,
      devicePixelRatio:1,
      layout:{padding:cfg.padding},
      plugins:{legend:{display:false}, tooltip:{enabled:false}},
      scales:{
        x:{type:'linear', min:cfg.xMin, max:cfg.xMax,
          afterBuildTicks:s => { s.ticks = cfg.xTicks.map(v => ({value:v})) },
          afterFit:s => { s.height = 46 },
          grid:{display:false}, border:{display:false},
          ticks:{autoSkip:false, maxRotation:0, padding:0, color:'#2a2a2a',
            font:{family:'DejaVu Sans', size:16},
            callback:v => xMajor.includes(v) ? String(v) : ''}},
        y:{type:'linear', min:cfg.yMin, max:cfg.yMax,
          afterBuildTicks:s => { s.ticks = cfg.yTicks.map(v => ({value:v})) },
          afterFit:s => { s.width = 0 },
          grid:{display:false}, border:{display:false},
          ticks:{display:false}}
      }
    }
  })
}

panel('cA', {shapes:aShapes, strips:[aStrip], lines:aLines, xTicks:xTicksA, yTicks:yTicksA, yLabels:yMajor,
  xMin:-0.24, xMax:36.58, yMin:12.01, yMax:33.01, yLabelX:55,
  padding:{left:73.5, right:31.5, top:5, bottom:0}})
panel('cB', {shapes:bShapes, strips:[bStripL,bStripR], lines:bLines, xTicks:xTicksB, yTicks:yTicksB, yLabels:yMajor,
  xMin:-0.22, xMax:15.25, yMin:11.07, yMax:34, yLabelX:16,
  padding:{left:39.5, right:252.5, top:5, bottom:0}})
panel('cC', {shapes:cShapes, strips:[cStripL,cStripR], lines:cLines, xTicks:xTicksC, yTicks:yTicksB, yLabels:null,
  xMin:-0.24, xMax:14, yMin:11.07, yMax:34, yLabelX:0,
  padding:{left:7.5, right:2.5, top:5, bottom:0}})
</script>
</body>
</html>
